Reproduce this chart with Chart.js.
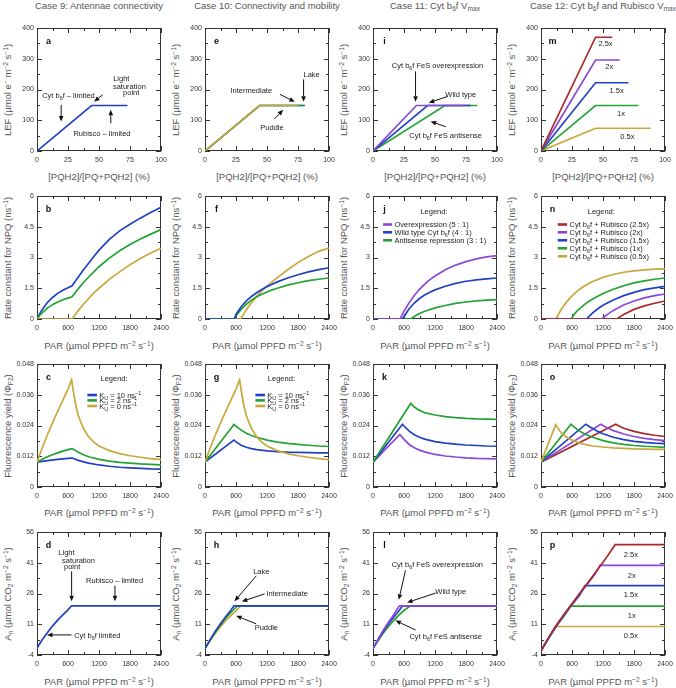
<!DOCTYPE html>
<html><head><meta charset="utf-8">
<script src="https://cdn.jsdelivr.net/npm/chart.js@4.4.1/dist/chart.umd.min.js"></script>
<style>
body{margin:0;background:#fff;}
#root{position:relative;width:676px;height:688px;overflow:hidden;font-family:'Liberation Sans',Arial,Helvetica,sans-serif;color:#555;font-weight:400;}
canvas{position:absolute;}
.t{position:absolute;white-space:nowrap;font-size:9.5px;line-height:12px;font-weight:400;color:#555;}
.ct{transform:translateX(-50%);}
.yt{transform:translate(-50%,-50%) rotate(-90deg);}
sup,sub{font-size:70%;line-height:0;}
sup{vertical-align:0.5em;} sub{vertical-align:-0.3em;}
</style></head>
<body><div id="root"></div>
<script>
// ---------------- tick values / labels ----------------
const lefX = [0,25,50,75,100];
const lefXLabels = ['0','25','50','75','100'];
const lefY = [0,100,200,300,400];
const lefYLabels = ['0','100','200','300','400'];
const parX = [0,600,1200,1800,2400];
const parXLabels = ['0','600','1200','1800','2400'];
const npqY = [0,1.5,3,4.5,6];
const npqYLabels = ['0','1.5','3','4.5','6'];
const fluY = [0,0.012,0.024,0.036,0.048];
const fluYLabels = ['0','0.012','0.024','0.036','0.048'];
const anY = [-4,11,26,41,56];
const anYLabels = ['-4','11','26','41','56'];

// ---------------- column titles ----------------
const caseTitles = ['Case 9: Antennae connectivity','Case 10: Connectivity and mobility','Case 11: Cyt b<sub>6</sub>f V<sub>max</sub>','Case 12: Cyt b<sub>6</sub>f and Rubisco V<sub>max</sub>'];

// ---------------- row 1: LEF vs [PQH2]/[PQ+PQH2] ----------------
const a_blue = [[0,0],[44,148],[73,148]];
const e_lake = [[0,0],[44,148],[80.5,148]];
const e_inter = [[0,0],[44,148],[79,148]];
const e_puddle = [[0,0],[44,148],[75,148]];
const i_over = [[0,0],[35,148],[75,148]];
const i_wt = [[0,0],[44,148],[79,148]];
const i_anti = [[0,0],[58,148],[84,148]];
const m_25 = [[0,0],[44,370],[57.5,370]];
const m_20 = [[0,0],[44,296],[63.5,296]];
const m_15 = [[0,0],[44,222],[70.5,222]];
const m_10 = [[0,0],[44,148],[78.5,148]];
const m_05 = [[0,0],[44,74],[88.5,74]];

// ---------------- row 2: NPQ rate constant vs PAR ----------------
const b_k10 = [[0,0],[50,0.25],[100,0.45],[200,0.8],[300,1.05],[400,1.25],[500,1.4],[600,1.52],[680,1.62],[750,1.88],[800,2.05],[900,2.4],[1000,2.72],[1100,3.05],[1200,3.36],[1400,3.88],[1600,4.3],[1800,4.62],[2000,4.92],[2200,5.2],[2400,5.45]];
const b_k2 = [[0,0],[50,0.17],[100,0.3],[200,0.53],[300,0.7],[400,0.83],[500,0.94],[600,1.02],[680,1.08],[750,1.32],[800,1.48],[900,1.78],[1000,2.05],[1100,2.3],[1200,2.55],[1400,2.97],[1600,3.33],[1800,3.63],[2000,3.9],[2200,4.14],[2400,4.36]];
const b_k0 = [[0,0],[680,0],[750,0.25],[800,0.42],[900,0.72],[1000,1.0],[1100,1.27],[1200,1.5],[1400,1.93],[1600,2.3],[1800,2.65],[2000,2.95],[2200,3.22],[2400,3.45]];
const f_lake = [[0,0],[570,0],[600,0.22],[700,0.6],[800,0.88],[900,1.1],[1000,1.28],[1100,1.44],[1200,1.58],[1300,1.7],[1400,1.81],[1600,2.0],[1800,2.16],[2000,2.3],[2200,2.41],[2400,2.5]];
const f_inter = [[0,0],[570,0],[600,0.16],[700,0.47],[800,0.72],[900,0.92],[1000,1.08],[1100,1.21],[1200,1.32],[1300,1.42],[1400,1.5],[1600,1.65],[1800,1.77],[2000,1.87],[2200,1.94],[2400,2.0]];
const f_puddle = [[0,0],[690,0],[750,0.25],[800,0.45],[900,0.8],[1000,1.1],[1100,1.37],[1200,1.6],[1400,2.02],[1600,2.4],[1800,2.75],[2000,3.05],[2200,3.3],[2400,3.46]];
const j_over = [[0,0],[525,0],[600,0.38],[700,0.8],[800,1.15],[900,1.45],[1000,1.7],[1100,1.92],[1200,2.1],[1400,2.4],[1600,2.63],[1800,2.8],[2000,2.93],[2200,3.03],[2400,3.09]];
const j_wt = [[0,0],[570,0],[600,0.12],[700,0.5],[800,0.78],[900,1.0],[1000,1.17],[1100,1.3],[1200,1.42],[1400,1.6],[1600,1.74],[1800,1.84],[2000,1.91],[2200,1.96],[2400,2.0]];
const j_anti = [[0,0],[730,0],[800,0.12],[900,0.27],[1000,0.38],[1200,0.54],[1400,0.66],[1600,0.76],[1800,0.83],[2000,0.88],[2200,0.92],[2400,0.95]];
const n_25 = [[0,0],[1470,0],[1550,0.14],[1600,0.22],[1800,0.47],[2000,0.64],[2200,0.77],[2400,0.88]];
const n_20 = [[0,0],[1180,0],[1250,0.15],[1300,0.25],[1400,0.42],[1600,0.68],[1800,0.88],[2000,1.03],[2200,1.14],[2400,1.22]];
const n_15 = [[0,0],[880,0],[950,0.18],[1000,0.3],[1100,0.5],[1200,0.67],[1400,0.93],[1600,1.14],[1800,1.3],[2000,1.43],[2200,1.52],[2400,1.59]];
const n_10 = [[0,0],[580,0],[650,0.25],[700,0.4],[800,0.62],[900,0.82],[1000,0.98],[1200,1.24],[1400,1.45],[1600,1.62],[1800,1.76],[2000,1.86],[2200,1.94],[2400,2.0]];
const n_05 = [[0,0],[290,0],[350,0.28],[400,0.5],[500,0.85],[600,1.13],[700,1.36],[800,1.55],[900,1.7],[1000,1.83],[1200,2.03],[1400,2.17],[1600,2.28],[1800,2.35],[2000,2.4],[2200,2.43],[2400,2.45]];

// ---------------- row 3: fluorescence yield vs PAR ----------------
const c_k10 = [[0,0.0097],[200,0.0103],[400,0.0108],[600,0.0112],[680,0.0113],[800,0.0104],[900,0.0098],[1000,0.0093],[1200,0.0086],[1400,0.0081],[1600,0.0077],[1800,0.0075],[2000,0.0073],[2200,0.0071],[2400,0.007]];
const c_k2 = [[0,0.0097],[100,0.0108],[200,0.0118],[300,0.0126],[400,0.0133],[500,0.014],[600,0.0146],[680,0.015],[800,0.0136],[900,0.0126],[1000,0.0118],[1200,0.0108],[1400,0.0101],[1600,0.0096],[1800,0.0093],[2000,0.009],[2200,0.0088],[2400,0.0086]];
const c_k0 = [[0,0.0097],[100,0.0152],[200,0.0203],[300,0.025],[400,0.0295],[500,0.0338],[600,0.0382],[670,0.0418],[700,0.0378],[750,0.032],[800,0.0278],[900,0.0228],[1000,0.0196],[1100,0.0175],[1200,0.016],[1400,0.0142],[1600,0.013],[1800,0.0122],[2000,0.0116],[2200,0.0111],[2400,0.0107]];
const g_k10 = [[0,0.0097],[560,0.0183],[600,0.0176],[700,0.0163],[800,0.0155],[900,0.015],[1000,0.0146],[1200,0.0141],[1400,0.0138],[1600,0.0136],[1800,0.0135],[2000,0.0134],[2200,0.0133],[2400,0.0133]];
const g_k2 = [[0,0.0097],[560,0.0244],[600,0.0237],[700,0.0222],[800,0.021],[900,0.0201],[1000,0.0194],[1200,0.0183],[1400,0.0175],[1600,0.017],[1800,0.0166],[2000,0.0163],[2200,0.016],[2400,0.0158]];
const g_k0 = [[0,0.0097],[100,0.0152],[200,0.0203],[300,0.025],[400,0.0295],[500,0.0338],[600,0.0382],[670,0.0418],[700,0.0378],[750,0.032],[800,0.0278],[900,0.0228],[1000,0.0196],[1100,0.0175],[1200,0.016],[1400,0.0142],[1600,0.013],[1800,0.0122],[2000,0.0116],[2200,0.0111],[2400,0.0107]];
const k_anti = [[0,0.0097],[730,0.0326],[800,0.0312],[900,0.0299],[1000,0.029],[1200,0.0281],[1400,0.0275],[1600,0.0271],[1800,0.0268],[2000,0.0266],[2200,0.0265],[2400,0.0264]];
const k_wt = [[0,0.0097],[570,0.0245],[600,0.0238],[700,0.0218],[800,0.0204],[900,0.0194],[1000,0.0187],[1200,0.0177],[1400,0.0171],[1600,0.0167],[1800,0.0164],[2000,0.0162],[2200,0.016],[2400,0.0159]];
const k_over = [[0,0.0097],[520,0.0205],[600,0.0186],[700,0.0166],[800,0.0153],[900,0.0144],[1000,0.0137],[1200,0.0127],[1400,0.0121],[1600,0.0117],[1800,0.0114],[2000,0.0112],[2200,0.0111],[2400,0.011]];
const o_25 = [[0,0.0097],[1445,0.0245],[1550,0.0234],[1600,0.0229],[1800,0.0217],[2000,0.0208],[2200,0.0202],[2400,0.0197]];
const o_20 = [[0,0.0097],[1155,0.0245],[1250,0.0234],[1300,0.0229],[1400,0.022],[1600,0.0207],[1800,0.0197],[2000,0.019],[2200,0.0185],[2400,0.0181]];
const o_15 = [[0,0.0097],[865,0.0245],[950,0.0234],[1000,0.0228],[1100,0.0217],[1200,0.0208],[1400,0.0194],[1600,0.0185],[1800,0.0178],[2000,0.0174],[2200,0.0171],[2400,0.0169]];
const o_10 = [[0,0.0097],[580,0.0245],[650,0.0233],[700,0.0225],[800,0.0212],[900,0.0202],[1000,0.0194],[1200,0.0181],[1400,0.0172],[1600,0.0166],[1800,0.0162],[2000,0.0159],[2200,0.0157],[2400,0.0155]];
const o_05 = [[0,0.0097],[285,0.0243],[350,0.0222],[400,0.021],[500,0.0194],[600,0.0183],[700,0.0175],[800,0.0168],[1000,0.016],[1200,0.0156],[1400,0.0153],[1600,0.0151],[1800,0.0149],[2000,0.0148],[2200,0.0147],[2400,0.0147]];

// ---------------- row 4: net assimilation vs PAR ----------------
const d_an = [[0,-0.8],[50,1.4],[100,3.4],[200,6.9],[300,10.1],[400,13],[500,15.6],[600,18],[670,20],[2400,20]];
const h_lake = [[0,-0.8],[100,3.5],[200,7.6],[300,11.3],[400,14.7],[500,17.8],[560,20],[2400,20]];
const h_inter = [[0,-0.8],[100,3.3],[200,7.2],[300,10.7],[400,13.9],[500,16.8],[600,19.3],[620,20],[2400,20]];
const h_puddle = [[0,-0.8],[100,3.0],[200,6.6],[300,9.8],[400,12.7],[500,15.2],[600,17.5],[690,20],[2400,20]];
const l_over = [[0,-0.8],[100,3.8],[200,8.1],[300,12],[400,15.6],[510,20],[2400,20]];
const l_wt = [[0,-0.8],[100,3.5],[200,7.5],[300,11.1],[400,14.4],[500,17.5],[570,20],[2400,20]];
const l_anti = [[0,-0.8],[100,3.1],[200,6.7],[300,9.9],[400,12.8],[500,15.4],[600,17.7],[700,19.6],[730,20],[2400,20]];
const p_25 = [[0,-2],[150,4.6],[300,10.6],[450,16],[600,21],[750,26.1],[900,31],[1050,36.1],[1200,41.2],[1320,45.5],[1435,49.8],[2400,49.8]];
const p_20 = [[0,-2],[150,4.5],[300,10.4],[450,15.8],[600,20.8],[750,25.8],[900,30.7],[1050,35.6],[1140,39.7],[2400,39.7]];
const p_15 = [[0,-2],[150,4.4],[300,10.3],[450,15.6],[600,20.5],[750,25.3],[850,29.8],[2400,29.8]];
const p_10 = [[0,-2],[150,4.3],[300,10.1],[450,15.2],[570,19.8],[2400,19.8]];
const p_05 = [[0,-2],[150,4.2],[280,9.9],[2400,9.9]];

// ---------------- styling / layout ----------------
const BLUE='#2140c4', GREEN='#24a233', GOLD='#c8a73c', PURPLE='#8b47d9', RED='#a82b2b';
const FONT="'Liberation Sans', Arial, Helvetica, sans-serif";
const COL_L=[37,205,373,541], ROW_T=[28,196,364,532], PW=124, PH=123;
const PL=30, PT=8, PR=14, PB=16;

const rows=[
  {xmin:0,xmax:100,xt:lefX,xl:lefXLabels,ymin:0,ymax:400,yt:lefY,yl:lefYLabels},
  {xmin:0,xmax:2400,xt:parX,xl:parXLabels,ymin:0,ymax:6,yt:npqY,yl:npqYLabels},
  {xmin:0,xmax:2400,xt:parX,xl:parXLabels,ymin:0,ymax:0.048,yt:fluY,yl:fluYLabels},
  {xmin:0,xmax:2400,xt:parX,xl:parXLabels,ymin:-4,ymax:56,yt:anY,yl:anYLabels}
];
const yTitles=['LEF (&micro;mol e<sup>&minus;</sup> m<sup>&minus;2</sup> s<sup>&minus;1</sup>)','Rate constant for NPQ (ns<sup>&minus;1</sup>)','Fluorescence yield (&Phi;<sub>F2</sub>)','A<sub>n</sub> (&micro;mol CO<sub>2</sub> m<sup>&minus;2</sup> s<sup>&minus;1</sup>)'];
const xTitles=['[PQH2]/[PQ+PQH2] (%)','PAR (&micro;mol PPFD m<sup>&minus;2</sup> s<sup>&minus;1</sup>)','PAR (&micro;mol PPFD m<sup>&minus;2</sup> s<sup>&minus;1</sup>)','PAR (&micro;mol PPFD m<sup>&minus;2</sup> s<sup>&minus;1</sup>)'];
const xTitleY=[176.7,346,513,681.7];

const T=(x,y,s,al)=>({t:'text',x,y,s,al:al||'center'});
const A=(x1,y1,x2,y2)=>({t:'arrow',x1,y1,x2,y2});
const L=(x1,x2,tx,y,color,s)=>({t:'leg',x1,x2,tx,y,color,s});

const panels=[
 {id:'a',r:0,c:0,s:[[a_blue,BLUE]],ann:[
   T(68,235,'Light'),T(74.5,212,'saturation'),T(76,191,'point'),A(53,183,46,160),
   T(25.4,180,'Cyt b_{6}f \u2013 limited'),A(19.5,150,19.5,96),
   T(52.4,58,'Rubisco \u2013 limited'),A(59.5,90,59.5,134)]},
 {id:'e',r:0,c:1,s:[[e_puddle,GOLD],[e_inter,GREEN],[e_lake,BLUE]],ann:[
   T(86,251,'Lake'),A(79.5,233,79.5,160),
   T(37.3,199,'Intermediate'),A(60.5,184,72.4,160),
   T(54,77,'Puddle'),A(56,104,63,134)]},
 {id:'i',r:0,c:2,s:[[i_over,PURPLE],[i_wt,BLUE],[i_anti,GREEN]],ann:[
   T(52,280,'Cyt b_{6}f FeS overexpression'),A(34.3,259,34.3,160),
   T(70.8,185,'Wild type'),A(60,177,45,157),
   T(58.6,52,'Cyt b_{6}f FeS antisense'),A(58.6,79,46.5,96)]},
 {id:'m',r:0,c:3,s:[[m_25,RED],[m_20,PURPLE],[m_15,BLUE],[m_10,GREEN],[m_05,GOLD]],ann:[
   T(52,351,'2.5x'),T(55,275,'2x'),T(61,199,'1.5x'),T(64.5,123,'1x'),T(69.7,49,'0.5x')]},
 {id:'b',r:1,c:0,s:[[b_k0,GOLD],[b_k2,GREEN],[b_k10,BLUE]],ann:[]},
 {id:'f',r:1,c:1,s:[[f_lake,BLUE],[f_inter,GREEN],[f_puddle,GOLD]],ann:[]},
 {id:'j',r:1,c:2,s:[[j_over,PURPLE],[j_wt,BLUE],[j_anti,GREEN]],ann:[
   T(1180,5.26,'Legend:'),
   L(195,370,415,4.61,PURPLE,'Overexpression (5 : 1)'),
   L(195,370,415,4.23,BLUE,'Wild type Cyt b_{6}f (4 : 1)'),
   L(195,370,415,3.84,GREEN,'Antisense repression (3 : 1)')]},
 {id:'n',r:1,c:3,s:[[n_25,RED],[n_20,PURPLE],[n_15,BLUE],[n_10,GREEN],[n_05,GOLD]],ann:[
   T(1167,5.26,'Legend:'),
   L(324,506,551,4.61,RED,'Cyt b_{6}f + Rubisco (2.5x)'),
   L(324,506,551,4.23,PURPLE,'Cyt b_{6}f + Rubisco (2x)'),
   L(324,506,551,3.84,BLUE,'Cyt b_{6}f + Rubisco (1.5x)'),
   L(324,506,551,3.45,GREEN,'Cyt b_{6}f + Rubisco (1x)'),
   L(324,506,551,3.06,GOLD,'Cyt b_{6}f + Rubisco (0.5x)')]},
 {id:'c',r:2,c:0,s:[[c_k0,GOLD],[c_k2,GREEN],[c_k10,BLUE]],ann:[
   T(1491,0.0423,'Legend:'),
   L(975,1160,1205,0.0359,BLUE,'K_{U} = 10 ns^{\u22121}'),
   L(975,1160,1205,0.0338,GREEN,'K_{U} = 2 ns^{\u22121}'),
   L(975,1160,1205,0.0316,GOLD,'K_{U} = 0 ns^{\u22121}')]},
 {id:'g',r:2,c:1,s:[[g_k0,GOLD],[g_k2,GREEN],[g_k10,BLUE]],ann:[
   T(1479,0.0423,'Legend:'),
   L(975,1160,1205,0.0359,BLUE,'K_{U} = 10 ns^{\u22121}'),
   L(975,1160,1205,0.0338,GREEN,'K_{U} = 2 ns^{\u22121}'),
   L(975,1160,1205,0.0316,GOLD,'K_{U} = 0 ns^{\u22121}')]},
 {id:'k',r:2,c:2,s:[[k_anti,GREEN],[k_wt,BLUE],[k_over,PURPLE]],ann:[]},
 {id:'o',r:2,c:3,s:[[o_05,GOLD],[o_10,GREEN],[o_15,BLUE],[o_20,PURPLE],[o_25,RED]],ann:[]},
 {id:'d',r:3,c:0,s:[[d_an,BLUE]],ann:[
   T(570,46.2,'Light'),T(803,42.4,'saturation'),T(680,39.2,'point'),A(670,36.8,670,22.2),
   T(1503,32.4,'Rubisco \u2013 limited'),A(1509,29.8,1509,22.2),
   T(719,5.8,'Cyt b_{6}f limited','left'),A(667,5.8,194,5.8)]},
 {id:'h',r:3,c:1,s:[[h_lake,BLUE],[h_inter,GREEN],[h_puddle,GOLD]],ann:[
   T(1089,36.8,'Lake'),A(992,34.6,571,22.2),
   T(1187,26.3,'Intermediate','left'),A(1154,25.8,713,22.1),
   T(1187,9.4,'Puddle'),A(992,11.2,603,15.1)]},
 {id:'l',r:3,c:2,s:[[l_over,PURPLE],[l_wt,BLUE],[l_anti,GREEN]],ann:[
   T(1245,40.2,'Cyt b_{6}f FeS overexpression'),A(629,37.3,499,22.9),
   T(1505,27,'Wild type'),A(1213,26.2,661,21.6),
   T(1407,5.3,'Cyt b_{6}f FeS antisense'),A(824,8.2,434,12.8)]},
 {id:'p',r:3,c:3,s:[[p_25,RED],[p_20,PURPLE],[p_15,BLUE],[p_10,GREEN],[p_05,GOLD]],ann:[
   T(1738,44.9,'2.5x'),T(1757,35.1,'2x'),T(1738,25.7,'1.5x'),T(1757,15.6,'1x'),T(1738,5.8,'0.5x')]}
];

// ---------------- drawing helpers ----------------
function drawRich(ctx,str,x,y,size,align,color,weight){
  const parts=[];const re=/([_^])\{([^}]*)\}/g;let last=0,m;
  while((m=re.exec(str))){if(m.index>last)parts.push({s:str.slice(last,m.index),k:''});parts.push({s:m[2],k:m[1]});last=re.lastIndex;}
  if(last<str.length)parts.push({s:str.slice(last),k:''});
  let w=0;
  parts.forEach(p=>{p.sz=p.k?size*0.72:size;ctx.font=(weight||'normal')+' '+p.sz+'px '+FONT;p.w=ctx.measureText(p.s).width;w+=p.w;});
  let cx=align==='center'?x-w/2:(align==='right'?x-w:x);
  const base=y+size*0.36;
  ctx.fillStyle=color||'#222';ctx.textAlign='left';ctx.textBaseline='alphabetic';
  parts.forEach(p=>{ctx.font=(weight||'normal')+' '+p.sz+'px '+FONT;const dy=p.k==='_'?size*0.28:(p.k==='^'?-size*0.4:0);ctx.fillText(p.s,cx,base+dy);cx+=p.w;});
}
function drawArrow(ctx,x1,y1,x2,y2){
  const ang=Math.atan2(y2-y1,x2-x1),hl=5.5,hw=2.3;
  const bx=x2-hl*Math.cos(ang),by=y2-hl*Math.sin(ang);
  ctx.strokeStyle='#111';ctx.fillStyle='#111';ctx.lineWidth=1;
  ctx.beginPath();ctx.moveTo(x1,y1);ctx.lineTo(bx,by);ctx.stroke();
  ctx.beginPath();ctx.moveTo(x2,y2);
  ctx.lineTo(bx+hw*Math.sin(ang),by-hw*Math.cos(ang));
  ctx.lineTo(bx-hw*Math.sin(ang),by+hw*Math.cos(ang));
  ctx.closePath();ctx.fill();
}
function mids(arr){const o=[];for(let i=0;i<arr.length-1;i++)o.push((arr[i]+arr[i+1])/2);return o;}

function decoPlugin(p,row){
  return {
    id:'deco_'+p.id,
    beforeDatasetsDraw(chart){
      const ctx=chart.ctx,{left,right,top,bottom}=chart.chartArea,xs=chart.scales.x,ys=chart.scales.y;
      ctx.save();
      ctx.strokeStyle='#333';ctx.lineWidth=1;
      ctx.strokeRect(left+0.5,top+0.5,right-left-1,bottom-top-1);
      ctx.beginPath();
      const tx=(vals,len)=>vals.forEach(v=>{const px=Math.round(xs.getPixelForValue(v))+0.5;ctx.moveTo(px,bottom);ctx.lineTo(px,bottom-len);ctx.moveTo(px,top);ctx.lineTo(px,top+len);});
      const ty=(vals,len)=>vals.forEach(v=>{const py=Math.round(ys.getPixelForValue(v))+0.5;ctx.moveTo(left,py);ctx.lineTo(left+len,py);ctx.moveTo(right,py);ctx.lineTo(right-len,py);});
      tx(row.xt,5);tx(mids(row.xt),3);ty(row.yt,5);ty(mids(row.yt),3);
      ctx.stroke();
      ctx.restore();
    },
    afterDatasetsDraw(chart){
      const ctx=chart.ctx,{left,top}=chart.chartArea,xs=chart.scales.x,ys=chart.scales.y;
      ctx.save();
      drawRich(ctx,p.id,left+11.5,top+13,9,'center','#111','bold');
      p.ann.forEach(a=>{
        if(a.t==='text'){drawRich(ctx,a.s,xs.getPixelForValue(a.x),ys.getPixelForValue(a.y),7.5,a.al,'#222');}
        else if(a.t==='arrow'){drawArrow(ctx,xs.getPixelForValue(a.x1),ys.getPixelForValue(a.y1),xs.getPixelForValue(a.x2),ys.getPixelForValue(a.y2));}
        else if(a.t==='leg'){
          const py=ys.getPixelForValue(a.y);
          ctx.strokeStyle=a.color;ctx.lineWidth=2.6;ctx.beginPath();
          ctx.moveTo(xs.getPixelForValue(a.x1),py);ctx.lineTo(xs.getPixelForValue(a.x2),py);ctx.stroke();
          drawRich(ctx,a.s,xs.getPixelForValue(a.tx),py,7.5,'left','#222');
        }
      });
      ctx.restore();
    }
  };
}

const root=document.getElementById('root');
function addDiv(cls,html,left,top){const d=document.createElement('div');d.className='t '+cls;d.innerHTML=html;d.style.left=left+'px';d.style.top=top+'px';root.appendChild(d);return d;}

// titles
caseTitles.forEach((t,c)=>addDiv('ct',t,COL_L[c]+PW/2,-0.5));
for(let r=0;r<4;r++){
  for(let c=0;c<4;c++){
    addDiv('ct',xTitles[r],COL_L[c]+PW/2,xTitleY[r]-6);
    const yc=[7.5,175.5,343.5,511.5][c];
    addDiv('yt',yTitles[r],yc,ROW_T[r]+PH/2);
  }
}

panels.forEach(p=>{
  const row=rows[p.r];
  const cv=document.createElement('canvas');
  const w=PW+PL+PR,h=PH+PT+PB;
  cv.width=w;cv.height=h;
  cv.style.left=(COL_L[p.c]-PL)+'px';cv.style.top=(ROW_T[p.r]-PT)+'px';
  cv.style.width=w+'px';cv.style.height=h+'px';
  root.appendChild(cv);
  new Chart(cv,{
    type:'line',
    data:{datasets:p.s.map(([d,col])=>({data:d,borderColor:col,backgroundColor:col,borderWidth:1.7,pointRadius:0,tension:0,fill:false}))},
    options:{
      responsive:false,animation:false,devicePixelRatio:1,
      layout:{padding:{left:0,top:PT,right:PR,bottom:0}},
      plugins:{legend:{display:false},tooltip:{enabled:false},title:{display:false}},
      events:[],
      scales:{
        x:{type:'linear',min:row.xmin,max:row.xmax,
          afterBuildTicks:s=>{s.ticks=row.xt.map(v=>({value:v}));},
          afterFit:s=>{s.height=PB;},
          grid:{display:false,drawTicks:false},border:{display:false},
          ticks:{autoSkip:false,maxRotation:0,padding:5,color:'#333',font:{size:7,family:FONT},callback:(v,i)=>row.xl[i]}},
        y:{type:'linear',min:row.ymin,max:row.ymax,
          afterBuildTicks:s=>{s.ticks=row.yt.map(v=>({value:v}));},
          afterFit:s=>{s.width=PL;},
          grid:{display:false,drawTicks:false},border:{display:false},
          ticks:{autoSkip:false,padding:3,color:'#333',font:{size:7,family:FONT},callback:(v,i)=>row.yl[i]}}
      }
    },
    plugins:[decoPlugin(p,row)]
  });
});
</script>
</body></html>
